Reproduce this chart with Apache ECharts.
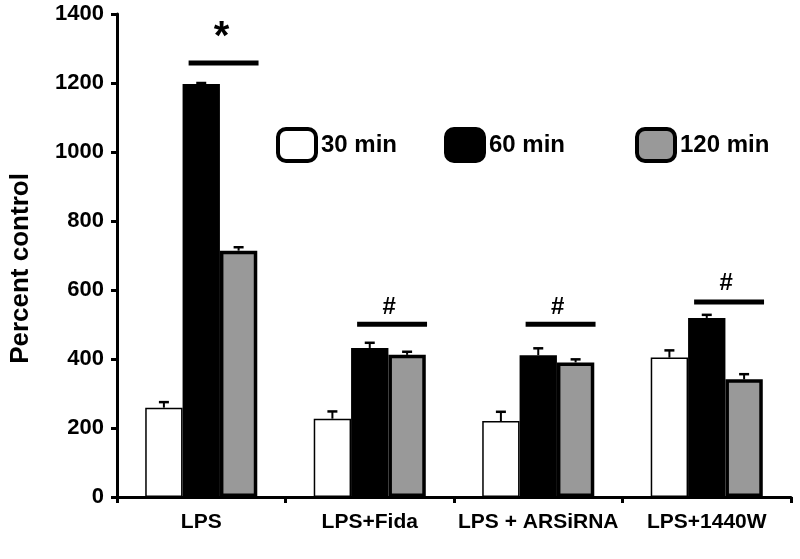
<!DOCTYPE html>
<html>
<head>
<meta charset="utf-8">
<script src="https://cdn.jsdelivr.net/npm/echarts@6/dist/echarts.min.js"></script>
<style>html,body{margin:0;padding:0;background:#fff}#c{width:800px;height:559px}</style>
</head>
<body>
<div id="c"></div>
<script>
const categories = ['LPS', 'LPS+Fida', 'LPS + ARSiRNA', 'LPS+1440W'];
const seriesNames = ['30 min', '60 min', '120 min'];
const values30 = [259, 227, 220, 404];
const values60 = [1197, 432, 411, 519];
const values120 = [714, 412, 390, 341];
const err30 = [16, 21, 27, 21];
const err60 = [3, 15, 20, 9];
const err120 = [10, 9, 9, 15];
const sigLineLevels = [1258, 501, 501, 565];
const sigMarks = ['*', '#', '#', '#'];
const sigTextLevels = [1330, 551, 551, 618];
const yTicks = [0, 200, 400, 600, 800, 1000, 1200, 1400];

const FONT = "'Liberation Sans', Arial, sans-serif";
const GROUP_FRAC = 0.665;

const chart = echarts.init(document.getElementById('c'), null, {renderer: 'canvas'});

function errSeries(sIdx, vals, errs) {
  return {
    type: 'custom',
    z: 5,
    silent: true,
    renderItem: function (params, api) {
      const idx = api.value(0), v = api.value(1), e = api.value(2);
      const band = api.size([1, 0])[0];
      const bw = band * GROUP_FRAC / 3;
      const p = api.coord([idx, v]);
      const q = api.coord([idx, v + e]);
      const x = p[0] + (sIdx - 1) * bw;
      return {
        type: 'group',
        children: [
          {type: 'line', shape: {x1: x, y1: p[1], x2: x, y2: q[1]}, style: {stroke: '#000', lineWidth: 2}},
          {type: 'line', shape: {x1: x - 5, y1: q[1], x2: x + 5, y2: q[1]}, style: {stroke: '#000', lineWidth: 2.5}}
        ]
      };
    },
    data: vals.map((v, i) => [i, v, errs[i]])
  };
}

const sigSeries = {
  type: 'custom',
  z: 6,
  silent: true,
  renderItem: function (params, api) {
    const idx = api.value(0), lv = api.value(1), tv = api.value(2);
    const band = api.size([1, 0])[0];
    const p = api.coord([idx, lv]);
    const t = api.coord([idx, tv]);
    const x0 = p[0] - 0.075 * band, x1 = p[0] + 0.34 * band;
    const mark = sigMarks[params.dataIndex];
    const star = mark === '*';
    return {
      type: 'group',
      children: [
        {type: 'rect', shape: {x: x0, y: p[1] - 2.5, width: x1 - x0, height: 5}, style: {fill: '#000'}},
        {type: 'text', x: star ? (x0 + x1) / 2 - 2 : (x0 + x1) / 2 - 3, y: t[1],
          style: {text: mark, fill: '#000', align: 'center', verticalAlign: 'middle',
            font: star ? "bold 40px " + FONT : "bold 24px " + FONT}}
      ]
    };
  },
  data: sigLineLevels.map((v, i) => [i, v, sigTextLevels[i]])
};

const legendCommon = {
  itemWidth: 38, itemHeight: 32,
  icon: 'roundRect',
  itemStyle: {borderColor: '#000', borderWidth: 4},
  textStyle: {fontFamily: FONT, fontWeight: 'bold', fontSize: 24, color: '#000', padding: [2, 0, 0, 0]},
  selectedMode: false
};

const option = {
  backgroundColor: '#fff',
  animation: false,
  grid: {left: 113, right: 9, top: 14, bottom: 62, containLabel: false},
  legend: [
    Object.assign({}, legendCommon, {data: ['30 min'], left: 271, top: 122}),
    Object.assign({}, legendCommon, {data: ['60 min'], left: 439, top: 122}),
    Object.assign({}, legendCommon, {data: ['120 min'], left: 630, top: 122})
  ],
  xAxis: {
    type: 'category',
    data: categories,
    axisLine: {lineStyle: {color: '#000', width: 3}},
    axisTick: {show: true, length: 6, lineStyle: {color: '#000', width: 3}},
    axisLabel: {fontFamily: FONT, fontWeight: 'bold', fontSize: 21, color: '#000', margin: 15,
      interval: 0, hideOverlap: false},
    splitLine: {show: false}
  },
  yAxis: {
    type: 'value',
    min: 0, max: 1400, interval: 200,
    name: 'Percent control',
    nameLocation: 'middle',
    nameRotate: 90,
    nameGap: 83,
    nameTextStyle: {fontFamily: FONT, fontWeight: 'bold', fontSize: 26, color: '#000', padding: [0, 0, 0, -26]},
    axisLine: {show: true, lineStyle: {color: '#000', width: 3}},
    axisTick: {show: true, length: 6, lineStyle: {color: '#000', width: 3}},
    axisLabel: {fontFamily: FONT, fontWeight: 'bold', fontSize: 22, color: '#000', margin: 13,
      padding: [8, 0, 0, 0],
      formatter: function (v) { return yTicks.indexOf(v) >= 0 ? String(v) : ''; }},
    splitLine: {show: false}
  },
  series: [
    {name: seriesNames[0], type: 'bar', data: values30, barGap: '0%', barCategoryGap: '33.5%',
      itemStyle: {color: '#fff', borderColor: '#000', borderWidth: 1.5}},
    {name: seriesNames[1], type: 'bar', data: values60, barGap: '0%', barCategoryGap: '33.5%',
      itemStyle: {color: '#000', borderColor: '#000', borderWidth: 0}},
    {name: seriesNames[2], type: 'bar', data: values120, barGap: '0%', barCategoryGap: '33.5%',
      itemStyle: {color: '#999999', borderColor: '#000', borderWidth: 3.5}},
    errSeries(0, values30, err30),
    errSeries(1, values60, err60),
    errSeries(2, values120, err120),
    sigSeries
  ]
};

chart.setOption(option);
</script>
</body>
</html>
